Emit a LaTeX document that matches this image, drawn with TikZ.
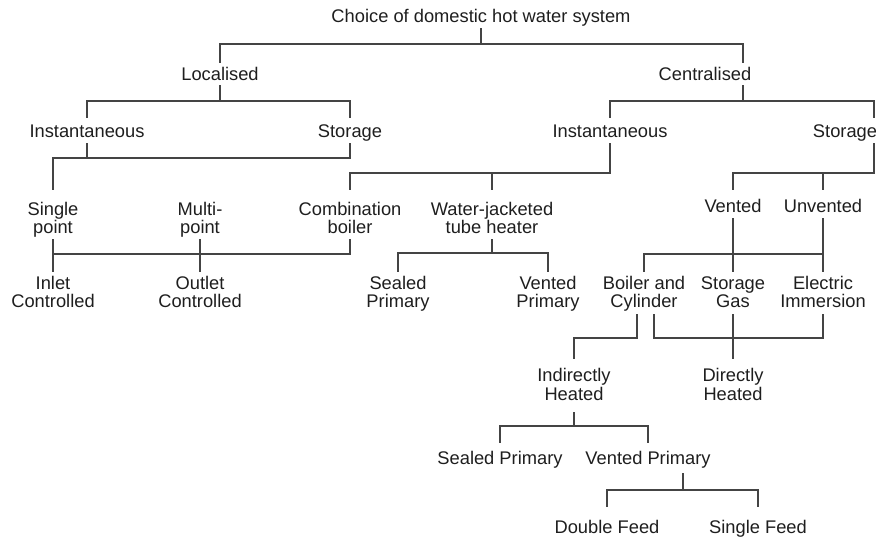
\documentclass[tikz,border=0pt]{standalone}
\usepackage{fontspec}
\setmainfont{Liberation Sans}
\usetikzlibrary{positioning}
\definecolor{Ink}{HTML}{1E1E1E}
\definecolor{Wire}{HTML}{444444}
\newcommand{\treefont}{\fontsize{18.3}{18.6}\selectfont}

\begin{document}
\begin{tikzpicture}[
  x=1pt,y=-1pt,
  kind/.style={inner sep=0pt,anchor=base,align=center,font=\treefont,text=Ink},
  gap/.style 2 args={kind,text height=#1,text depth=#2},
  wire/.style={draw=Wire,line width=2pt}
]
\useasboundingbox (0,0) rectangle (876,537);
\node[gap={13pt}{5pt}] (root) at (481,23) {Choice of domestic hot water system};
\node[gap={18pt}{4pt}] (loc) at (220,81) {Localised};
\node[gap={18pt}{4pt}] (cen) at (705,81) {Centralised};
\node[gap={20pt}{5pt}] (linst) at (87,138) {Instantaneous};
\node[gap={20pt}{5pt}] (lstor) at (350,138) {Storage};
\node[gap={20pt}{5pt}] (cinst) at (610,138) {Instantaneous};
\node[gap={20pt}{5pt}] (cstor) at (845,138) {Storage};
\node[gap={44pt}{5pt}] (sgpt) at (53,234) {Single\\point};
\node[gap={44pt}{5pt}] (multi) at (200,234) {Multi-\\point};
\node[gap={44pt}{5pt}] (comb) at (350,234) {Combination\\boiler};
\node[gap={44pt}{5pt}] (wjt) at (492,234) {Water-jacketed\\tube heater};
\node[gap={23pt}{5pt}] (vent) at (733,213) {Vented};
\node[gap={23pt}{5pt}] (unvent) at (823,213) {Unvented};
\node[gap={36pt}{6pt}] (inlet) at (53,308) {Inlet\\Controlled};
\node[gap={36pt}{6pt}] (outlet) at (200,308) {Outlet\\Controlled};
\node[gap={36pt}{6pt}] (sealA) at (398,308) {Sealed\\Primary};
\node[gap={36pt}{6pt}] (ventA) at (548,308) {Vented\\Primary};
\node[gap={36pt}{6pt}] (boil) at (644,308) {Boiler and\\Cylinder};
\node[gap={36pt}{6pt}] (sgas) at (733,308) {Storage\\Gas};
\node[gap={36pt}{6pt}] (elec) at (823,308) {Electric\\Immersion};
\node[gap={41pt}{12pt}] (indir) at (574,400) {Indirectly\\Heated};
\node[gap={41pt}{12pt}] (dir) at (733,400) {Directly\\Heated};
\node[gap={21pt}{9pt}] (sealB) at (500,464) {Sealed Primary};
\node[gap={21pt}{9pt}] (ventB) at (648,464) {Vented Primary};
\node[gap={26pt}{0pt}] (dfeed) at (607,533) {Double Feed};
\node[gap={26pt}{0pt}] (sfeed) at (758,533) {Single Feed};
% top split
\coordinate (r) at (481,44); \coordinate (rc) at (743,44);
\draw[wire] (root) -- (r) -| (loc); \draw[wire] (r) -- (rc) -- (rc |- cen.north);
% localised
\coordinate (l) at (220,101);
\draw[wire] (loc) -- (l) -| (linst); \draw[wire] (l) -| (lstor);
% centralised
\coordinate (c) at (743,101); \coordinate (cs) at (874,101);
\draw[wire] (cen.south -| c) -- (c) -| (cinst); \draw[wire] (c) -- (cs) -- (cs |- cstor.north);
% localised types into point of use
\coordinate (lp) at (53,158);
\draw[wire] (linst) |- (lp) -- (sgpt); \draw[wire] (lstor) |- (lp);
% centralised instantaneous
\coordinate (ci) at (610,173);
\draw[wire] (cinst) -- (ci) -| (comb); \draw[wire] (ci) -| (wjt);
% centralised storage
\coordinate (cst) at (874,173);
\draw[wire] (cst |- cstor.south) -- (cst) -| (vent); \draw[wire] (cst) -| (unvent);
% point of use controls
\coordinate (pc) at (53,254);
\draw[wire] (sgpt) -- (inlet); \draw[wire] (multi) -- (outlet); \draw[wire] (comb) |- (pc);
% water-jacketed primaries
\coordinate (wj) at (492,253);
\draw[wire] (wjt) -- (wj) -| (sealA); \draw[wire] (wj) -| (ventA);
% storage appliances
\coordinate (va) at (823,254);
\draw[wire] (vent) -- (sgas); \draw[wire] (unvent) -- (elec); \draw[wire] (va) -| (boil);
% heating mode
\coordinate (bl) at (637,338); \coordinate (br) at (654,338);
\draw[wire] (boil.south -| bl) -- (bl) -| (indir); \draw[wire] (boil.south -| br) -- (br) -| (elec);
\draw[wire] (sgas) -- (dir);
% indirect primaries
\coordinate (ind) at (574,426);
\draw[wire] (indir) -- (ind) -| (sealB); \draw[wire] (ind) -| (ventB);
% feeds
\coordinate (vf) at (683,490);
\draw[wire] (ventB.south -| vf) -- (vf) -| (dfeed); \draw[wire] (vf) -| (sfeed);
\end{tikzpicture}
\end{document}
